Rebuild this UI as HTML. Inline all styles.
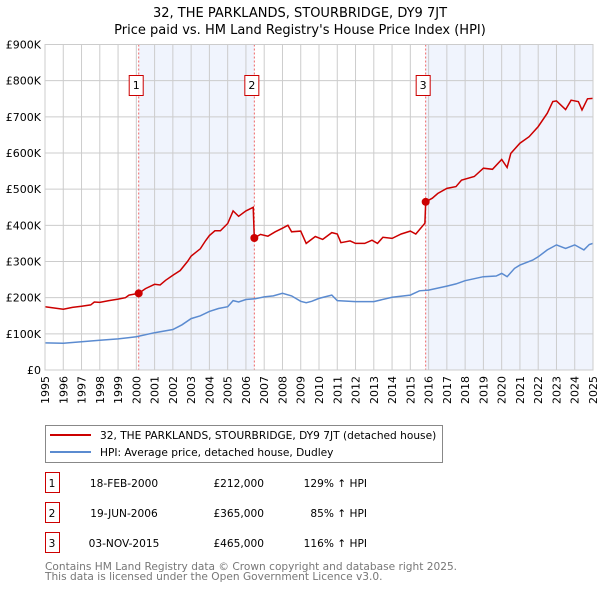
<!DOCTYPE html>
<html><head><meta charset="utf-8"><style>
body{margin:0;background:#fff;font-family:"DejaVu Sans","Liberation Sans",sans-serif;}
#wrap{position:relative;width:600px;height:590px;overflow:hidden}
</style></head><body><div id="wrap">
<svg id="chart" width="600" height="590" xmlns="http://www.w3.org/2000/svg" font-family="DejaVu Sans, Liberation Sans, sans-serif">
<text x="300" y="17" text-anchor="middle" font-size="13">32, THE PARKLANDS, STOURBRIDGE, DY9 7JT</text>
<text x="300" y="34" text-anchor="middle" font-size="13">Price paid vs. HM Land Registry's House Price Index (HPI)</text>
<g id="plot"></g>
<rect x="45.5" y="425.5" width="397" height="37" fill="#fff" stroke="#888"/>
<line x1="50" y1="435" x2="91" y2="435" stroke="#cc0000" stroke-width="2"/>
<text x="100" y="439" font-size="10.6">32, THE PARKLANDS, STOURBRIDGE, DY9 7JT (detached house)</text>
<line x1="50" y1="452" x2="91" y2="452" stroke="#5b8bd0" stroke-width="2"/>
<text x="100" y="456" font-size="10.6">HPI: Average price, detached house, Dudley</text>
<g font-size="10.6" id="table"></g>
<text x="45" y="570" font-size="10.6" fill="#777">Contains HM Land Registry data © Crown copyright and database right 2025.</text>
<text x="45" y="580" font-size="10.6" fill="#777">This data is licensed under the Open Government Licence v3.0.</text>
</svg></div>
<script>
const yearTicks=[1995,1996,1997,1998,1999,2000,2001,2002,2003,2004,2005,2006,2007,2008,2009,2010,2011,2012,2013,2014,2015,2016,2017,2018,2019,2020,2021,2022,2023,2024,2025];
const valueTicks=[0,100,200,300,400,500,600,700,800,900];
const valueTickLabels=["£0","£100K","£200K","£300K","£400K","£500K","£600K","£700K","£800K","£900K"];
const hpiYears=[1995,1996,1997,1998,1999,2000,2001,2002,2002.5,2003,2003.5,2004,2004.5,2005,2005.3,2005.6,2006,2006.5,2007,2007.5,2008,2008.5,2009,2009.3,2009.6,2010,2010.7,2011,2012,2013,2014,2015,2015.5,2016,2017,2017.5,2018,2019,2019.7,2020,2020.3,2020.7,2021,2021.7,2022,2022.5,2023,2023.5,2024,2024.5,2024.8,2025];
const hpiValues=[75,74,78,82,86,92,103,112,125,142,150,162,170,175,192,188,195,197,202,205,212,205,190,186,190,198,207,192,189,189,201,207,219,221,232,238,247,258,260,267,258,281,290,304,313,332,346,336,346,332,347,350];
const priceYears=[1995,1996,1996.5,1997,1997.5,1997.7,1998,1998.5,1999,1999.4,1999.6,2000.13,2000.5,2001,2001.3,2001.6,2002,2002.4,2002.8,2003,2003.5,2003.8,2004,2004.3,2004.6,2005,2005.3,2005.6,2006,2006.4,2006.46,2006.8,2007.2,2007.6,2008,2008.3,2008.5,2009,2009.3,2009.8,2010.2,2010.7,2011,2011.2,2011.7,2012,2012.5,2012.9,2013.2,2013.5,2014,2014.5,2015,2015.3,2015.8,2015.84,2016.2,2016.5,2017,2017.5,2017.8,2018.5,2019,2019.5,2020,2020.3,2020.5,2021,2021.5,2022,2022.5,2022.8,2023,2023.5,2023.8,2024.2,2024.4,2024.7,2025];
const priceValues=[175,168,173,176,180,188,187,192,196,200,207,212,225,237,235,248,262,275,300,315,335,358,372,385,385,405,440,425,440,450,365,375,370,382,392,400,382,384,350,369,361,380,376,352,357,350,350,359,350,367,364,376,384,376,406,465,475,488,502,507,525,535,558,555,582,560,599,627,645,673,710,742,744,720,746,742,719,750,751];
const saleLabels=["1","2","3"];
const saleYears=[2000.13,2006.46,2015.84];
const saleValues=[212,365,465];
const saleDates=["18-FEB-2000","19-JUN-2006","03-NOV-2015"];
const salePrices=["£212,000","£365,000","£465,000"];
const saleHpi=["129% ↑ HPI","85% ↑ HPI","116% ↑ HPI"];

const X0=45,X1=593,Y0=370,Y1=44.5;
const xs=y=>X0+(y-1995)/(2025-1995)*(X1-X0);
const ys=v=>Y0-v/900*(Y0-Y1);
const NS="http://www.w3.org/2000/svg";
const plot=document.getElementById('plot');
function mk(tag,attrs,parent){const e=document.createElementNS(NS,tag);for(const k in attrs)e.setAttribute(k,attrs[k]);(parent||plot).appendChild(e);return e;}
let r=mk('rect',{x:xs(saleYears[0]),y:Y1,width:xs(saleYears[1])-xs(saleYears[0]),height:Y0-Y1,fill:'#f0f4fd'});


r=mk('rect',{x:xs(saleYears[2]),y:Y1,width:X1-xs(saleYears[2]),height:Y0-Y1,fill:'#f0f4fd'});


yearTicks.forEach(t=>{
 const l=mk('line',{x1:xs(t),x2:xs(t),y1:Y1,y2:Y0,stroke:'#cccccc','stroke-width':1});
 
 
 const tx=mk('text',{x:0,y:0,'font-size':11,'text-anchor':'end',transform:`translate(${xs(t)+4},${Y0+6}) rotate(-90)`});
 tx.textContent=t;
 
 
});
valueTicks.forEach((v,i)=>{
 const l=mk('line',{x1:X0,x2:X1,y1:ys(v),y2:ys(v),stroke:'#cccccc','stroke-width':1});
 
 
 const tx=mk('text',{x:X0-4,y:ys(v)+4,'font-size':11,'text-anchor':'end'});
 tx.textContent=valueTickLabels[i];
 
 
});
saleYears.forEach((s,i)=>{
 const l=mk('line',{x1:xs(s),x2:xs(s),y1:Y1,y2:Y0,stroke:'#ee6666','stroke-width':1,'stroke-dasharray':'2,2'});
 
 
 const b=mk('rect',{x:xs(s)-9.5,y:75.5,width:14,height:20,fill:'#fff',stroke:'#cc0000'});
 
 
 const t=mk('text',{x:xs(s)-2.5,y:89,'font-size':11,'text-anchor':'middle'});
 t.textContent=saleLabels[i];
 
 
});
const path=(xsArr,vArr)=>xsArr.map((x,i)=>(i?'L':'M')+xs(x).toFixed(1)+','+ys(vArr[i]).toFixed(1)).join('');
let p=mk('path',{d:path(hpiYears,hpiValues),fill:'none',stroke:'#5b8bd0','stroke-width':1.5});


p=mk('path',{d:path(priceYears,priceValues),fill:'none',stroke:'#cc0000','stroke-width':1.5});


saleYears.forEach((s,i)=>{
 const c=mk('circle',{cx:xs(s),cy:ys(saleValues[i]),r:4,fill:'#cc0000'});
 
 
});
mk('rect',{x:X0,y:Y1,width:X1-X0,height:Y0-Y1,fill:'none',stroke:'#cccccc'});
const tb=document.getElementById('table');
saleLabels.forEach((lab,i)=>{
 const y=483+i*30;
 let e=mk('rect',{x:45.5,y:y-10.5,width:14,height:20,fill:'#fff',stroke:'#cc0000'},tb);
 
 
 const cells=[[52,lab,'middle'],[124,saleDates[i],'middle'],[264,salePrices[i],'end'],[367,saleHpi[i],'end']];
 cells.forEach((c,j)=>{
  const t=mk('text',{x:c[0],y:y+4,'text-anchor':c[2]},tb);
  t.textContent=c[1];
  
  
 });
});
</script></body></html>
